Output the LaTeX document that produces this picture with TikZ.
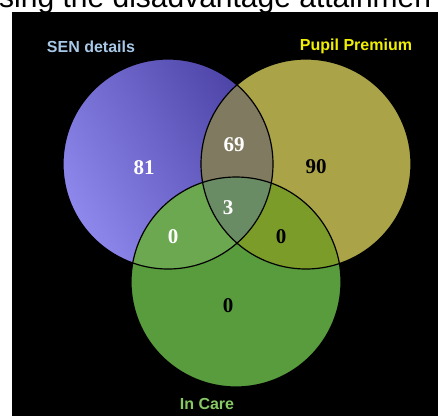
\documentclass[tikz,border=0pt]{standalone}
\usepackage{fontspec}
\setmainfont{Liberation Serif}
\setsansfont{Liberation Sans}
\definecolor{SenLight}{RGB}{142,136,236}
\definecolor{SenDark}{RGB}{76,66,166}
\definecolor{PupilFill}{RGB}{170,163,72}
\definecolor{CareFill}{RGB}{88,156,62}
\definecolor{SenPupil}{RGB}{128,122,96}
\definecolor{SenCare}{RGB}{108,168,80}
\definecolor{PupilCare}{RGB}{124,156,42}
\definecolor{AllThree}{RGB}{106,140,100}
\definecolor{SenText}{RGB}{168,200,232}
\definecolor{PupilText}{RGB}{240,240,0}
\definecolor{CareText}{RGB}{134,200,100}
\newcommand\vennrad{105pt}

\begin{document}
\begin{tikzpicture}[x=1pt,y=-1pt,
  setname/.style={font=\sffamily\bfseries\fontsize{16}{16}\selectfont,text=#1,inner sep=0pt},
  count/.style={font=\bfseries\fontsize{21}{21}\selectfont,text=#1,inner sep=0pt},
  rim/.style={draw=black,line width=1.2pt}]
\useasboundingbox (0,0) rectangle (438,416);
\clip (0,0) rectangle (438,416);
\node[anchor=base west,inner sep=0pt,font=\sffamily\fontsize{30}{30}\selectfont](title) at (-1,7) {sing the disadvantage attainmen};
\fill[black] (12,12) rectangle (438,416);
\coordinate (sen) at (168,164);
\coordinate (pupil) at (306,164);
\coordinate (care) at (236,282);
% the three sets
\shade[top color=SenDark,bottom color=SenLight,shading angle=-60] (sen) circle (\vennrad);
\fill[PupilFill] (pupil) circle (\vennrad);
\begin{scope}
  \clip (sen) circle (\vennrad);
  \fill[SenPupil] (pupil) circle (\vennrad);
\end{scope}
\fill[CareFill] (care) circle (\vennrad);
\begin{scope}
  \clip (sen) circle (\vennrad);
  \fill[SenCare] (care) circle (\vennrad);
\end{scope}
\begin{scope}
  \clip (pupil) circle (\vennrad);
  \fill[PupilCare] (care) circle (\vennrad);
\end{scope}
\begin{scope}
  \clip (sen) circle (\vennrad);
  \clip (pupil) circle (\vennrad);
  \fill[AllThree] (care) circle (\vennrad);
\end{scope}
\foreach \c in {sen,pupil,care}
  \draw[rim] (\c) circle (\vennrad);
% labels
\node[setname=SenText] (senlabel) at (91,47) {SEN details};
\node[setname=PupilText] (pupillabel) at (356,46) {Pupil Premium};
\node[setname=CareText] (carelabel) at (207,404) {In Care};
\foreach \n/\x/\y/\v/\col in {senonly/144/168/81/white, senpupil/234/145/69/white,
    pupilonly/316/167/90/black, allthree/228/208/3/white, sencare/173/237/0/white,
    pupilcare/281/237/0/black, careonly/228/306/0/black}
  \node[count=\col] (\n) at (\x,\y) {\v};
\end{tikzpicture}
\end{document}
